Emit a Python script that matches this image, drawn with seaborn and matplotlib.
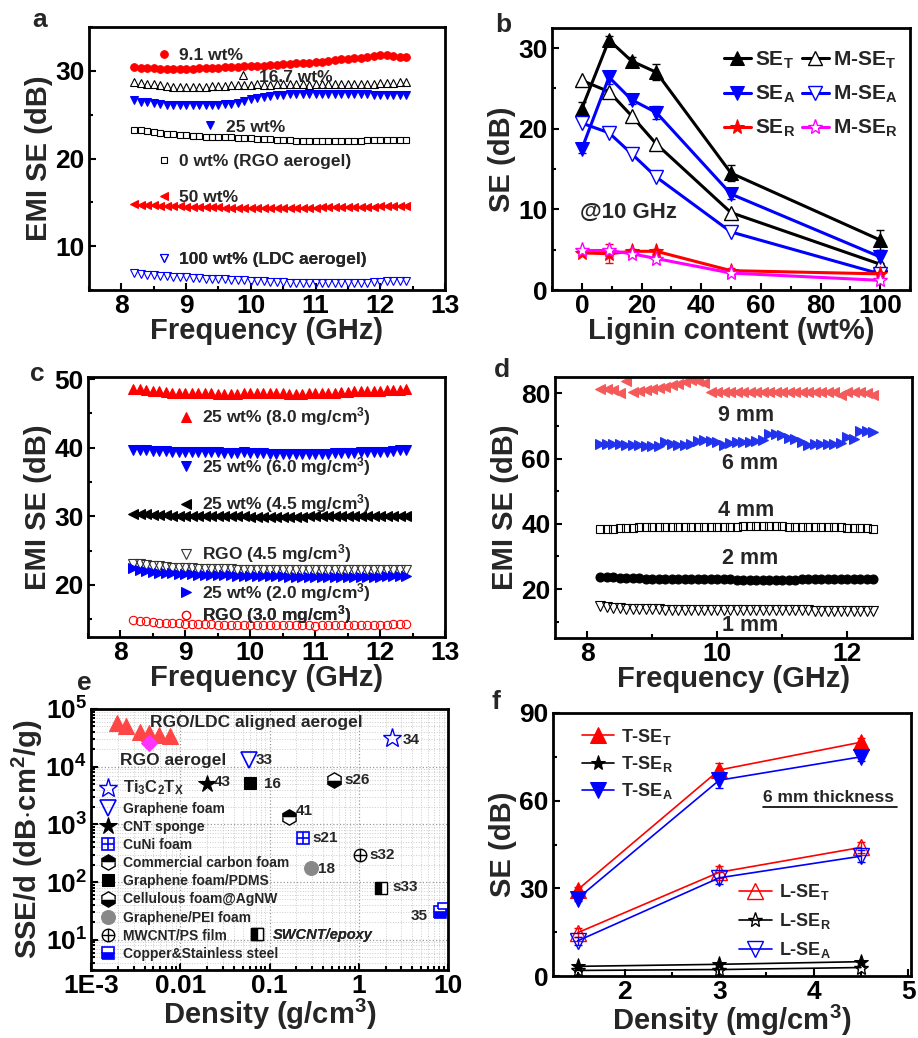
import numpy as np
import pandas as pd
import matplotlib
matplotlib.use('Agg')
import matplotlib.pyplot as plt
import seaborn as sns
from matplotlib.ticker import MultipleLocator, FuncFormatter, LogLocator, NullFormatter

# ---------------- data ----------------
freq = [8.2, 8.3, 8.4, 8.5, 8.6, 8.7, 8.8, 8.9, 9.0, 9.1,
        9.2, 9.3, 9.4, 9.5, 9.6, 9.7, 9.8, 9.9, 10.0, 10.1,
        10.2, 10.3, 10.4, 10.5, 10.6, 10.7, 10.8, 10.9, 11.0, 11.1,
        11.2, 11.3, 11.4, 11.5, 11.6, 11.7, 11.8, 11.9, 12.0, 12.1,
        12.2, 12.3, 12.4]

# panel a : lignin content series
a_91 = [30.4, 30.35, 30.3, 30.3, 30.25, 30.2, 30.2, 30.2, 30.25, 30.25,
        30.3, 30.3, 30.3, 30.35, 30.4, 30.4, 30.45, 30.5, 30.5, 30.55,
        30.6, 30.65, 30.7, 30.75, 30.8, 30.85, 30.9, 30.95, 31.0, 31.05,
        31.1, 31.2, 31.3, 31.35, 31.45, 31.5, 31.6, 31.7, 31.75, 31.8,
        31.7, 31.6, 31.6]
a_167 = [28.75, 28.65, 28.55, 28.45, 28.35, 28.3, 28.2, 28.15, 28.15, 28.1,
         28.15, 28.2, 28.25, 28.3, 28.3, 28.35, 28.35, 28.4, 28.4, 28.45,
         28.4, 28.4, 28.45, 28.5, 28.45, 28.5, 28.45, 28.4, 28.5, 28.45,
         28.5, 28.45, 28.5, 28.45, 28.5, 28.55, 28.5, 28.55, 28.6, 28.6,
         28.65, 28.7, 28.7]
a_25 = [26.7, 26.5, 26.4, 26.3, 26.2, 26.15, 26.1, 26.1, 26.1, 26.1,
        26.1, 26.15, 26.15, 26.15, 26.2, 26.25, 26.35, 26.6, 26.8, 26.9,
        27.0, 27.1, 27.2, 27.3, 27.35, 27.4, 27.4, 27.35, 27.4, 27.4,
        27.35, 27.4, 27.4, 27.35, 27.4, 27.35, 27.35, 27.3, 27.3, 27.3,
        27.3, 27.3, 27.3]
a_0 = [23.3, 23.2, 23.1, 23.0, 22.9, 22.85, 22.8, 22.7, 22.65, 22.6,
       22.55, 22.5, 22.5, 22.45, 22.4, 22.4, 22.35, 22.3, 22.3, 22.25,
       22.2, 22.2, 22.15, 22.1, 22.1, 22.05, 22.05, 22.0, 22.0, 22.0,
       22.0, 22.0, 22.0, 22.05, 22.05, 22.05, 22.1, 22.1, 22.1, 22.1,
       22.1, 22.15, 22.15]
a_50 = [14.8, 14.75, 14.7, 14.65, 14.6, 14.6, 14.55, 14.55, 14.5, 14.5,
        14.5, 14.45, 14.45, 14.45, 14.4, 14.4, 14.4, 14.4, 14.4, 14.4,
        14.4, 14.35, 14.4, 14.4, 14.4, 14.4, 14.4, 14.4, 14.4, 14.45,
        14.45, 14.45, 14.5, 14.5, 14.5, 14.5, 14.5, 14.5, 14.55, 14.55,
        14.55, 14.55, 14.55]
a_100 = [6.9, 6.8, 6.75, 6.7, 6.6, 6.55, 6.5, 6.5, 6.45, 6.4,
         6.35, 6.3, 6.3, 6.25, 6.2, 6.15, 6.1, 6.1, 6.05, 6.0,
         6.0, 5.95, 5.9, 5.9, 5.85, 5.8, 5.8, 5.8, 5.8, 5.75,
         5.75, 5.75, 5.8, 5.8, 5.8, 5.85, 5.85, 5.9, 5.95, 6.0,
         6.0, 6.05, 6.0]

# panel b : SE at 10 GHz vs lignin content
b_x = [0, 9.1, 16.7, 25, 50, 100]
se_t = [22.5, 31.0, 28.4, 27.0, 14.5, 6.2]
se_t_err = [0.8, 0.5, 0.5, 1.0, 1.0, 1.2]
mse_t = [26.0, 24.6, 21.6, 18.1, 9.6, 3.2]
se_a = [17.5, 26.4, 23.6, 22.0, 11.9, 4.1]
se_a_err = [0.5, 0.8, 0.5, 0.8, 0.6, 0.8]
mse_a = [20.7, 19.5, 16.9, 14.0, 7.2, 2.0]
se_r = [4.6, 4.5, 4.8, 4.8, 2.4, 2.0]
se_r_err = [0.3, 1.2, 0.3, 0.3, 0.3, 0.3]
mse_r = [4.9, 4.9, 4.5, 3.9, 2.1, 1.2]

# panel c : density series
c_80 = [48.6, 48.5, 48.4, 48.3, 48.2, 48.1, 48.0, 48.0, 47.9, 47.9,
        47.9, 47.9, 47.9, 47.8, 47.8, 47.8, 47.8, 47.9, 47.9, 47.9,
        47.9, 47.9, 47.9, 47.9, 47.8, 47.8, 47.8, 47.9, 47.9, 47.9,
        47.9, 48.0, 48.1, 48.1, 48.2, 48.2, 48.3, 48.3, 48.3, 48.4,
        48.4, 48.4, 48.5]
c_60 = [39.7, 39.6, 39.6, 39.5, 39.5, 39.5, 39.4, 39.4, 39.4, 39.3,
        39.3, 39.3, 39.3, 39.3, 39.2, 39.2, 39.2, 39.3, 39.2, 39.2,
        39.2, 39.1, 39.1, 39.1, 39.1, 39.1, 39.1, 39.1, 39.1, 39.1,
        39.1, 39.2, 39.2, 39.2, 39.2, 39.3, 39.3, 39.3, 39.4, 39.4,
        39.5, 39.6, 39.7]
c_45 = [30.4, 30.35, 30.3, 30.25, 30.2, 30.15, 30.1, 30.1, 30.05, 30.05,
        30.0, 30.0, 30.0, 30.0, 30.0, 30.0, 30.0, 30.0, 29.95, 29.95,
        29.95, 29.95, 29.95, 29.95, 29.95, 29.95, 29.95, 30.0, 30.0, 30.0,
        30.0, 30.0, 30.0, 30.0, 30.0, 30.05, 30.05, 30.05, 30.05, 30.1,
        30.1, 30.1, 30.1]
c_rgo45 = [23.1, 23.0, 22.9, 22.8, 22.7, 22.6, 22.5, 22.45, 22.4, 22.4,
           22.35, 22.3, 22.3, 22.3, 22.25, 22.25, 22.2, 22.2, 22.2, 22.2,
           22.2, 22.15, 22.15, 22.1, 22.1, 22.1, 22.1, 22.1, 22.1, 22.1,
           22.1, 22.1, 22.1, 22.1, 22.1, 22.1, 22.1, 22.1, 22.15, 22.15,
           22.15, 22.2, 22.2]
c_20 = [22.4, 22.2, 22.0, 21.9, 21.8, 21.75, 21.7, 21.65, 21.6, 21.55,
        21.5, 21.5, 21.45, 21.4, 21.4, 21.4, 21.35, 21.35, 21.3, 21.3,
        21.3, 21.3, 21.25, 21.25, 21.2, 21.2, 21.2, 21.2, 21.2, 21.2,
        21.2, 21.2, 21.2, 21.2, 21.2, 21.2, 21.2, 21.2, 21.2, 21.25,
        21.25, 21.25, 21.3]
c_rgo30 = [14.9, 14.8, 14.7, 14.6, 14.5, 14.45, 14.4, 14.4, 14.35, 14.3,
           14.3, 14.25, 14.25, 14.2, 14.2, 14.2, 14.2, 14.15, 14.15, 14.15,
           14.1, 14.1, 14.1, 14.1, 14.1, 14.1, 14.1, 14.1, 14.05, 14.1,
           14.1, 14.1, 14.1, 14.15, 14.15, 14.15, 14.2, 14.2, 14.2, 14.2,
           14.25, 14.25, 14.25]

# panel d : thickness series
d_9 = [81.2, 81.2, 81.0, 80.2, 83.8, 80.4, 80.6, 81.0, 81.4, 81.7,
       82.0, 82.4, 82.8, 83.5, 84.2, 83.8, 83.2, 80.5, 80.4, 80.4,
       80.4, 80.4, 80.4, 80.5, 80.4, 80.4, 80.4, 80.4, 80.5, 80.4,
       80.4, 80.4, 80.4, 80.4, 80.4, 80.4, 80.4, 79.6, 80.3, 80.3,
       80.3, 80.2, 79.4]
d_6 = [64.6, 64.6, 64.5, 64.4, 64.3, 64.2, 64.1, 64.0, 63.9, 64.0,
       65.2, 64.5, 64.3, 64.3, 64.6, 65.4, 65.6, 65.4, 65.0, 64.2,
       64.8, 65.0, 65.0, 65.1, 65.3, 65.8, 67.4, 67.5, 67.2, 66.2,
       66.0, 65.2, 64.3, 64.4, 64.6, 64.6, 64.6, 64.8, 66.5, 66.0,
       68.3, 68.3, 68.2]
d_4 = [38.5, 38.5, 38.5, 38.6, 38.6, 38.8, 38.9, 38.9, 38.9, 38.9,
       38.9, 39.0, 39.0, 39.0, 39.0, 39.0, 39.0, 39.0, 39.0, 39.1,
       39.1, 39.1, 39.2, 39.2, 39.2, 39.2, 39.3, 39.2, 39.2, 39.1,
       39.0, 39.0, 39.0, 39.0, 39.0, 38.9, 38.9, 38.9, 38.8, 38.8,
       38.7, 38.6, 38.5]
d_2 = [23.8, 23.7, 23.6, 23.5, 23.4, 23.3, 23.3, 23.2, 23.2, 23.1,
       23.1, 23.1, 23.0, 23.0, 23.0, 23.0, 23.0, 23.0, 23.0, 23.0,
       23.0, 22.9, 22.9, 22.9, 22.9, 22.9, 22.9, 22.9, 22.9, 22.9,
       22.9, 23.0, 23.0, 23.0, 23.0, 23.0, 23.0, 23.0, 23.0, 23.0,
       23.0, 23.1, 23.1]
d_1 = [14.8, 14.5, 14.3, 14.1, 14.0, 13.9, 13.9, 13.8, 13.8, 13.8,
       13.7, 13.7, 13.7, 13.7, 13.6, 13.6, 13.6, 13.6, 13.6, 13.5,
       13.5, 13.5, 13.5, 13.5, 13.5, 13.5, 13.5, 13.5, 13.5, 13.5,
       13.5, 13.5, 13.5, 13.4, 13.4, 13.4, 13.4, 13.4, 13.4, 13.4,
       13.4, 13.3, 13.3]

# panel e : SSE/d vs density (g/cm3)
lignin_dens = [0.00195, 0.00247, 0.00356, 0.00452, 0.00585, 0.00773]
lignin_sse = [56400, 50600, 40300, 37800, 35300, 33900]
rgo_dens, rgo_sse = [0.00452], [25900]
lit_names = ['Ti3C2Tx', 'Graphene foam', 'CNT sponge', 'CuNi foam',
             'Commercial carbon foam', 'Graphene foam/PDMS', 'Cellulous foam@AgNW',
             'Graphene/PEI foam', 'MWCNT/PS film', 'SWCNT/epoxy']
lit_refs = ['34', '33', '43', 's21', '41', '16', 's26', '18', 's32', 's33']
lit_dens = [2.33, 0.0586, 0.020, 0.239, 0.165, 0.060, 0.53, 0.289, 1.03, 1.77]
lit_sse = [32000, 13300, 5000, 590, 1320, 5300, 5900, 177, 300, 80]
steel_dens = [8.2, 9.1]
steel_sse = [30, 34]

# panel f : SE vs density at 6 mm
f_x = [1.5, 3.0, 4.5]
t_set = [29.5, 70.5, 80.0]
t_set_err = [1.0, 2.5, 1.5]
t_ser = [3.3, 4.0, 4.9]
t_sea = [26.5, 67.0, 75.0]
t_sea_err = [1.0, 2.5, 1.5]
l_set = [14.8, 35.5, 44.0]
l_set_err = [1.5, 2.0, 2.0]
l_ser = [1.9, 2.2, 2.9]
l_sea = [12.0, 33.6, 41.0]
l_sea_err = [1.5, 2.0, 2.0]

# ---------------- style ----------------
sns.set_theme(style='ticks')
plt.rcParams['font.family'] = ['Liberation Sans', 'DejaVu Sans']
plt.rcParams['font.weight'] = 'bold'
plt.rcParams['axes.labelweight'] = 'bold'
plt.rcParams['mathtext.fontset'] = 'custom'
plt.rcParams['mathtext.rm'] = 'Liberation Sans:bold'
plt.rcParams['mathtext.bf'] = 'Liberation Sans:bold'
plt.rcParams['mathtext.it'] = 'Liberation Sans:bold:italic'
plt.rcParams['mathtext.default'] = 'bf'

RED, BLUE, BLACK, MAG = '#ff0000', '#0000ff', 'black', '#ff00ff'
TICK_FS, LAB_FS = 19, 21

W, H = 918.0, 1038.0
fig = plt.figure(figsize=(9.18, 10.38), dpi=100)


def panel(l, t, r, b):
    return fig.add_axes([l / W, 1 - b / H, (r - l) / W, (b - t) / H])


def style(ax, xmaj=None, xmin=None, ymaj=None, ymin=None):
    if xmaj:
        ax.xaxis.set_major_locator(MultipleLocator(xmaj))
    if xmin:
        ax.xaxis.set_minor_locator(MultipleLocator(xmin))
    if ymaj:
        ax.yaxis.set_major_locator(MultipleLocator(ymaj))
    if ymin:
        ax.yaxis.set_minor_locator(MultipleLocator(ymin))
    ax.tick_params(which='both', direction='in', top=False, right=False,
                   labelsize=TICK_FS, width=1.5, pad=3, colors='black')
    ax.tick_params(which='major', length=5)
    ax.tick_params(which='minor', length=3)
    for s in ax.spines.values():
        s.set_linewidth(2)
        s.set_color('black')
        s.set_visible(True)


def pts(ax, x, y, color, marker, ms, open_=False, ls='', lw=0, fc=None, **kw):
    face = fc if fc is not None else ('none' if open_ else color)
    sns.lineplot(x=x, y=y, ax=ax, color=color, marker=marker, markersize=ms,
                 markerfacecolor=face, markeredgecolor=color, linestyle=ls,
                 linewidth=lw, **kw)
    return ax.lines[-1]


def key(ax, handle, text, x, y, fs, hl=1.0, pad=0.4, **kw):
    leg = ax.legend([handle], [text], loc='center left', bbox_to_anchor=(x, y),
                    bbox_transform=ax.transData, frameon=False, fontsize=fs,
                    handlelength=hl, handletextpad=pad, borderpad=0,
                    borderaxespad=0, numpoints=1, **kw)
    ax.add_artist(leg)
    return leg


ax_a = panel(89, 27, 445, 290)
ax_b = panel(552, 28, 910, 290)
ax_c = panel(88, 377, 445, 637)
ax_d = panel(555, 377, 912, 638)
ax_e = panel(91, 709, 448, 970)
ax_f = panel(553, 713, 911, 976)

# ---------------- a ----------------
ax = ax_a
h91 = pts(ax, freq, a_91, RED, 'o', 5.5)
h167 = pts(ax, freq, a_167, BLACK, '^', 5.5, open_=True, markeredgewidth=0.8)
h25 = pts(ax, freq, a_25, BLUE, 'v', 6)
h0 = pts(ax, freq, a_0, BLACK, 's', 5, open_=True, markeredgewidth=0.8)
h50 = pts(ax, freq, a_50, RED, '<', 6)
h100 = pts(ax, freq, a_100, BLUE, 'v', 6, open_=True, markeredgewidth=0.8)
for h, t, x, y in [(h91, '9.1 wt%', 8.52, 31.8), (h167, '16.7 wt%', 9.75, 29.3),
                   (h25, '25 wt%', 9.24, 23.6), (h0, '0 wt% (RGO aerogel)', 8.52, 19.7),
                   (h50, '50 wt%', 8.52, 15.6), (h100, '100 wt% (LDC aerogel)', 8.52, 8.5)]:
    key(ax, h, t, x, y, 12.5)
ax.set_xlim(7.5, 13)
ax.set_ylim(5, 35)
style(ax, 1, 0.5, 10, 5)
ax.set_xlabel('Frequency (GHz)', fontsize=LAB_FS, labelpad=-1)
ax.set_ylabel('EMI SE (dB)', fontsize=LAB_FS, labelpad=2)

# ---------------- b ----------------
ax = ax_b
ax.errorbar(b_x, se_t, yerr=se_t_err, fmt='none', ecolor=BLACK, elinewidth=1, capsize=3)
ax.errorbar(b_x, se_a, yerr=se_a_err, fmt='none', ecolor=BLUE, elinewidth=1, capsize=3)
ax.errorbar(b_x, se_r, yerr=se_r_err, fmt='none', ecolor=RED, elinewidth=1, capsize=3)
hb1 = pts(ax, b_x, se_t, BLACK, '^', 10, ls='-', lw=2.2)
hb4 = pts(ax, b_x, mse_t, BLACK, '^', 10, ls='-', lw=2.2, fc='white', markeredgewidth=1)
hb2 = pts(ax, b_x, se_a, BLUE, 'v', 10, ls='-', lw=2.2)
hb5 = pts(ax, b_x, mse_a, BLUE, 'v', 10, ls='-', lw=2.2, fc='white', markeredgewidth=1)
hb3 = pts(ax, b_x, se_r, RED, '*', 11, ls='-', lw=2.2)
hb6 = pts(ax, b_x, mse_r, MAG, '*', 11, ls='-', lw=2.2, fc='white', markeredgewidth=1)
ax.legend([hb1, hb2, hb3, hb4, hb5, hb6],
          [r'SE$_\mathregular{T}$', r'SE$_\mathregular{A}$', r'SE$_\mathregular{R}$',
           r'M-SE$_\mathregular{T}$', r'M-SE$_\mathregular{A}$', r'M-SE$_\mathregular{R}$'],
          ncol=2, loc='upper right', bbox_to_anchor=(1.0, 0.965), frameon=False,
          fontsize=15, handlelength=1.3, handletextpad=0.2, columnspacing=0.3,
          labelspacing=0.62, borderaxespad=0.2)
ax.text(-0.5, 9.6, '@10 GHz', fontsize=16, fontweight='bold', va='center', ha='left')
ax.set_xlim(-10, 110)
ax.set_ylim(0, 32.5)
style(ax, 20, 10, 10, 5)
ax.set_xlabel('Lignin content (wt%)', fontsize=LAB_FS, labelpad=-1)
ax.set_ylabel('SE (dB)', fontsize=LAB_FS, labelpad=2)

# ---------------- c ----------------
ax = ax_c
hc1 = pts(ax, freq, c_80, RED, '^', 6.5)
hc2 = pts(ax, freq, c_60, BLUE, 'v', 6.5)
hc3 = pts(ax, freq, c_45, BLACK, '<', 6.5)
hc4 = pts(ax, freq, c_rgo45, '#333333', 'v', 7, open_=True, markeredgewidth=0.8)
hc5 = pts(ax, freq, c_20, BLUE, '>', 6.5)
hc6 = pts(ax, freq, c_rgo30, RED, 'o', 6, open_=True, markeredgewidth=0.8)
for h, t, y in [(hc1, '25 wt% (8.0 mg/cm$^3$)', 44.5), (hc2, '25 wt% (6.0 mg/cm$^3$)', 37.3),
                (hc3, '25 wt% (4.5 mg/cm$^3$)', 31.8), (hc4, 'RGO (4.5 mg/cm$^3$)', 24.5),
                (hc5, '25 wt% (2.0 mg/cm$^3$)', 18.9), (hc6, 'RGO (3.0 mg/cm$^3$)', 15.6)]:
    key(ax, h, t, 8.88, y, 12.5)
ax.set_xlim(7.5, 13)
ax.set_ylim(12.4, 50.3)
style(ax, 1, 0.5, 10, 5)
ax.set_xlabel('Frequency (GHz)', fontsize=LAB_FS, labelpad=-1)
ax.set_ylabel('EMI SE (dB)', fontsize=LAB_FS, labelpad=2)

# ---------------- d ----------------
ax = ax_d
pts(ax, freq, d_9, '#f45a5a', '<', 6.5)
pts(ax, freq, d_6, '#2233ee', '>', 6.5)
pts(ax, freq, d_4, BLACK, 's', 6, open_=True, markeredgewidth=0.8)
pts(ax, freq, d_2, BLACK, 'o', 6.5)
pts(ax, freq, d_1, BLACK, 'v', 7, open_=True, markeredgewidth=0.8)
for t, x, y in [('9 mm', 10.45, 73.3), ('6 mm', 10.5, 58.6), ('4 mm', 10.45, 44.2),
                ('2 mm', 10.5, 29.5), ('1 mm', 10.5, 8.8)]:
    ax.text(x, y, t, fontsize=15.5, fontweight='bold', ha='center', va='center')
ax.set_xlim(7.5, 13)
ax.set_ylim(5, 85)
style(ax, 2, 1, 20, 10)
ax.set_xlabel('Frequency (GHz)', fontsize=LAB_FS, labelpad=-1)
ax.set_ylabel('EMI SE (dB)', fontsize=LAB_FS, labelpad=2)

# ---------------- e ----------------
ax = ax_e
ax.set_xscale('log')
ax.set_yscale('log')
ax.grid(True, which='major', color='#999999', linestyle=':', linewidth=0.9)
ax.grid(True, which='minor', color='#cccccc', linestyle=':', linewidth=0.7)
ax.set_axisbelow(True)
pts(ax, lignin_dens, lignin_sse, '#ff4545', '^', 11)
pts(ax, rgo_dens, rgo_sse, '#ff33ff', 'D', 8.5)
lit_style = [
    dict(color=BLUE, marker='*', ms=14, open_=True, markeredgewidth=1),
    dict(color=BLUE, marker='v', ms=12, open_=True, markeredgewidth=1.2),
    dict(color=BLACK, marker='*', ms=13),
    dict(color=BLUE, marker='s', ms=8.5, open_=True, markeredgewidth=1.2),
    dict(color=BLACK, marker='h', ms=11, fc=BLACK, fillstyle='top', markerfacecoloralt='white', markeredgewidth=1),
    dict(color=BLACK, marker='s', ms=9),
    dict(color=BLACK, marker='h', ms=11, fc=BLACK, fillstyle='bottom', markerfacecoloralt='white', markeredgewidth=1),
    dict(color='#888888', marker='o', ms=10),
    dict(color=BLACK, marker='o', ms=9, open_=True, markeredgewidth=1),
    dict(color=BLACK, marker='s', ms=9, fc=BLACK, fillstyle='left', markerfacecoloralt='white', markeredgewidth=1),
]
lit_handles = []
for i in range(len(lit_names)):
    st = dict(lit_style[i])
    h = pts(ax, [lit_dens[i]], [lit_sse[i]], st.pop('color'), st.pop('marker'), st.pop('ms'), **st)
    if lit_names[i] == 'CuNi foam':
        h = (h, pts(ax, [lit_dens[i]], [lit_sse[i]], BLUE, '+', 8.5, markeredgewidth=1.2))
    if lit_names[i] == 'MWCNT/PS film':
        h = (h, pts(ax, [lit_dens[i]], [lit_sse[i]], BLACK, '+', 9, markeredgewidth=1))
    lit_handles.append(h)
h_steel = pts(ax, steel_dens, steel_sse, BLUE, 's', 9, fc=BLUE, fillstyle='bottom',
              markerfacecoloralt='white', markeredgewidth=1.2)

ref_pos = [(3.1, 28900), (0.0697, 13300), (0.0236, 5440), (0.302, 587), (0.196, 1706),
           (0.0863, 4970), (0.684, 5820), (0.349, 169), (1.31, 300), (2.39, 81)]
for r, (x, y) in zip(lit_refs, ref_pos):
    ax.text(x, y, r, fontsize=11, fontweight='bold', ha='left', va='center')
ax.text(3.84, 26, '35', fontsize=11, fontweight='bold', ha='left', va='center')
ax.text(0.0046, 59400, 'RGO/LDC aligned aerogel', fontsize=12.5, fontweight='bold', ha='left', va='center')
ax.text(0.00212, 13000, 'RGO aerogel', fontsize=12.5, fontweight='bold', ha='left', va='center')

leg_names = [r'Ti$_3$C$_2$T$_X$'] + lit_names[1:9] + ['Copper&Stainless steel']
leg_handles = lit_handles[:9] + [h_steel]
leg = ax.legend(leg_handles, leg_names, loc='upper left', bbox_to_anchor=(0.0, 0.765),
                frameon=False, fontsize=10, handlelength=1.2, handletextpad=0.5,
                labelspacing=0.3, borderaxespad=0.2, numpoints=1)
leg.get_texts()[0].set_fontsize(12)
ax.add_artist(leg)
sw = ax.legend([lit_handles[9]], ['SWCNT/epoxy'], loc='center left', bbox_to_anchor=(0.44, 0.134),
               frameon=False, fontsize=10.5, handlelength=1.2, handletextpad=0.5,
               borderpad=0, borderaxespad=0, numpoints=1)
sw.get_texts()[0].set_fontstyle('italic')
ax.add_artist(sw)

ax.set_xlim(1e-3, 10)
ax.set_ylim(3, 1e5)
ax.set_xticks([1e-3, 1e-2, 1e-1, 1, 10])
ax.set_xticklabels(['1E-3', '0.01', '0.1', '1', '10'])
ax.xaxis.set_minor_locator(LogLocator(base=10, subs=np.arange(2, 10)))
ax.xaxis.set_minor_formatter(NullFormatter())
ax.yaxis.set_major_locator(LogLocator(base=10, numticks=10))
ax.yaxis.set_major_formatter(FuncFormatter(lambda v, p: '10$^{%d}$' % round(np.log10(v))))
ax.yaxis.set_minor_locator(LogLocator(base=10, subs=np.arange(2, 10), numticks=20))
ax.yaxis.set_minor_formatter(NullFormatter())
style(ax)
ax.set_xlabel('Density (g/cm$^3$)', fontsize=LAB_FS, labelpad=-1)
ax.set_ylabel(r'SSE/d (dB$\cdot$cm$^2$/g)', fontsize=LAB_FS, labelpad=0)

# ---------------- f ----------------
ax = ax_f
for y, e, c in [(t_set, t_set_err, RED), (t_sea, t_sea_err, BLUE),
                (l_set, l_set_err, RED), (l_sea, l_sea_err, BLUE)]:
    ax.errorbar(f_x, y, yerr=e, fmt='none', ecolor=c, elinewidth=1, capsize=3)
hf1 = pts(ax, f_x, t_set, RED, '^', 11, ls='-', lw=1.2)
hf2 = pts(ax, f_x, t_ser, BLACK, '*', 11, ls='-', lw=1.2)
hf3 = pts(ax, f_x, t_sea, BLUE, 'v', 11, ls='-', lw=1.2)
hf4 = pts(ax, f_x, l_set, RED, '^', 11, ls='-', lw=1.2, fc='none', markeredgewidth=1)
hf5 = pts(ax, f_x, l_ser, BLACK, '*', 11, ls='-', lw=1.2, fc='none', markeredgewidth=1)
hf6 = pts(ax, f_x, l_sea, BLUE, 'v', 11, ls='-', lw=1.2, fc='none', markeredgewidth=1)
l1 = ax.legend([hf1, hf2, hf3],
               [r'T-SE$_\mathregular{T}$', r'T-SE$_\mathregular{R}$', r'T-SE$_\mathregular{A}$'],
               loc='upper left', bbox_to_anchor=(0.06, 0.975), frameon=False, fontsize=13,
               handlelength=1.8, handletextpad=0.4, labelspacing=0.4, borderaxespad=0)
ax.add_artist(l1)
ax.legend([hf4, hf5, hf6],
          [r'L-SE$_\mathregular{T}$', r'L-SE$_\mathregular{R}$', r'L-SE$_\mathregular{A}$'],
          loc='upper left', bbox_to_anchor=(0.5, 0.385), frameon=False, fontsize=13,
          handlelength=1.8, handletextpad=0.4, labelspacing=0.5, borderaxespad=0)
ax.text(0.587, 0.677, '6 mm thickness', transform=ax.transAxes, fontsize=12.5,
        fontweight='bold', ha='left', va='center')
ax.plot([0.587, 0.962], [0.642, 0.642], transform=ax.transAxes, color='black', lw=1.2)
ax.set_xlim(1.24, 5.03)
ax.set_ylim(0, 90)
style(ax, 1, 0.5, 30, 15)
ax.set_xlabel('Density (mg/cm$^3$)', fontsize=LAB_FS, labelpad=-1)
ax.set_ylabel('SE (dB)', fontsize=LAB_FS, labelpad=2)

# panel letters
for t, x, y in [('a', 40, 20), ('b', 503, 25), ('c', 37, 374), ('d', 502, 370),
                ('e', 84, 683), ('f', 496, 702)]:
    fig.text(x / W, 1 - y / H, t, fontsize=19, fontweight='bold', ha='center', va='center')

fig.savefig('out.png', dpi=100)
